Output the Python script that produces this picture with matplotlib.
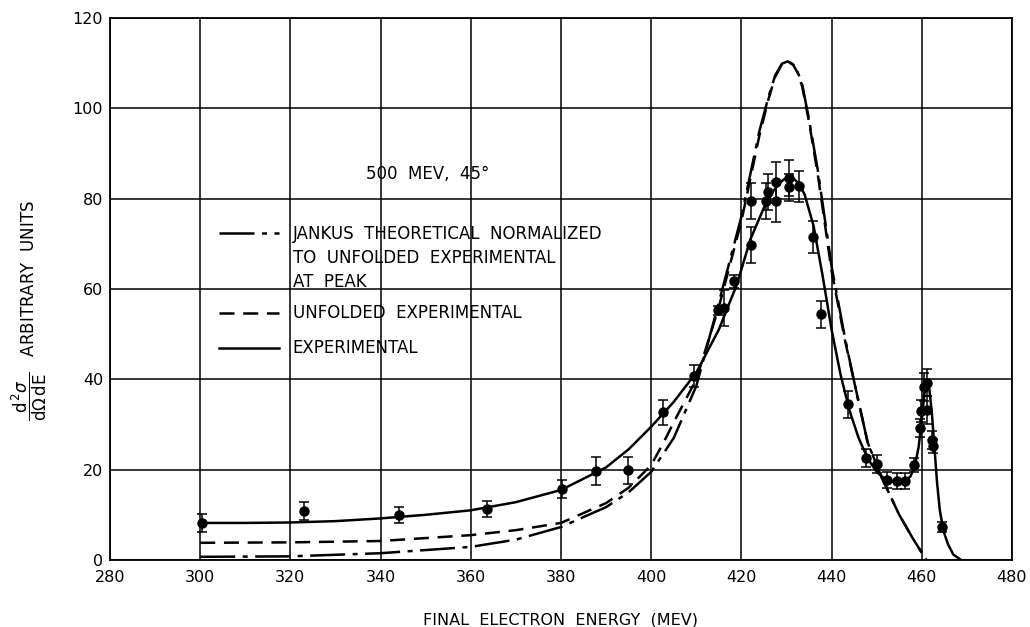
import numpy as np
import matplotlib
matplotlib.use('Agg')
from matplotlib import pyplot as plt
from matplotlib.lines import Line2D

# measured points (final electron energy in MeV, cross section arb. units)
pt_e = [300.5, 323, 344, 363.6, 380.2, 387.8, 394.9, 402.6, 409.5, 414.8,
        416.1, 418.4, 422.1, 422.1, 425.5, 425.9, 427.7, 427.7, 430.6, 430.6,
        432.8, 435.9, 437.7, 443.6, 447.6, 450.1, 452.3, 454.5, 456.3, 458.3,
        459.6, 459.8, 460.5, 461.2, 461.2, 462.3, 462.5, 464.5]
pt_y = [8.2, 10.8, 10.0, 11.3, 15.7, 19.7, 19.9, 32.7, 40.7, 55.3,
        55.8, 61.7, 69.7, 79.4, 79.4, 81.4, 79.4, 83.6, 84.5, 82.5,
        82.7, 71.5, 54.4, 34.5, 22.6, 21.2, 17.7, 17.5, 17.5, 21.0,
        29.2, 33.0, 38.3, 39.2, 33.2, 26.5, 25.2, 7.3]
pt_err = [2.0, 2.0, 1.8, 1.8, 2.0, 3.0, 3.0, 2.8, 2.5, 1.0,
          4.0, 1.5, 4.0, 4.0, 4.0, 4.0, 4.5, 4.5, 4.0, 3.0,
          3.5, 3.5, 3.0, 3.0, 2.0, 2.0, 1.8, 1.8, 1.8, 1.5,
          2.0, 2.5, 3.0, 3.0, 3.0, 2.0, 1.5, 1.2]

# experimental curve
exp_e = [300, 310, 320, 330, 340, 350, 360, 370, 380, 390, 395, 400, 405, 410,
         415, 419, 422, 425, 427, 428.5, 429.5, 430.5, 431.5, 432.5, 434, 436,
         438, 440, 442, 444, 446, 448, 450, 452, 454, 456, 457.5, 458.5, 459.3,
         460, 460.6, 461.1, 461.6, 462.2, 462.8, 463.4, 464, 464.8, 465.8, 467,
         468.7]
exp_y = [8.2, 8.2, 8.3, 8.6, 9.2, 10, 11, 12.8, 15.5, 20.5, 24.5, 29.5, 35, 41.5,
         51, 61, 71, 78, 81.6, 83.5, 84.3, 84.6, 84.5, 83.6, 81, 74,
         63, 51, 41, 33, 27, 22.5, 19.5, 17.8, 17.2, 17.3, 18.5, 21, 25,
         31, 37, 39.2, 38.5, 33, 25, 17, 11, 6.5, 3.5, 1.2,
         0]

# unfolded experimental curve
unf_e = [300, 320, 340, 360, 370, 380, 390, 395, 400, 403, 405, 410, 415, 420,
         424, 426, 427.5, 429, 430.3, 431.5, 432.5, 433.5, 435, 437, 440, 443,
         445, 448, 451, 455, 458, 461]
unf_y = [3.8, 3.9, 4.2, 5.5, 6.6, 8.2, 12.6, 16, 21, 26.5, 30.5, 40, 56, 75,
         94, 102, 107, 109.8, 110.4, 109.6, 107.8, 104.8, 97, 85, 64, 48.5,
         39.5, 26, 18.5, 10, 4.8, 0]

# Jankus theoretical, normalized at peak
jan_e = [300, 320, 340, 360, 370, 380, 390, 395, 400, 405, 410, 415, 420, 424,
         426, 427.5, 429, 430.3, 431.5, 432.5, 433.5, 435, 437, 440, 443, 445,
         448, 451, 455, 458, 461]
jan_y = [0.7, 0.8, 1.5, 2.9, 4.5, 7.3, 11.7, 15, 19.5, 27, 38.5, 57, 76, 95,
         102.5, 107.3, 109.9, 110.4, 109.7, 108, 105.2, 97.5, 86, 65, 49, 39.5,
         26, 18.5, 10, 4.8, 0]

x_ticks = np.arange(280, 481, 20)
y_ticks = np.arange(0, 121, 20)

plt.rcParams['font.family'] = 'DejaVu Sans'

fig = plt.figure(figsize=(10.3, 6.27), dpi=100)
ax = fig.add_axes([0.1068, 0.1069, 0.8757, 0.8644])

lw = 1.8
jan_dash = (14, 3, 2, 3)
unf_dash = (6, 3.5)
ax.plot(jan_e, jan_y, color='black', lw=lw, dashes=jan_dash)
ax.plot(unf_e, unf_y, color='black', lw=lw, dashes=unf_dash)
ax.plot(exp_e, exp_y, color='black', lw=lw)
ax.errorbar(pt_e, pt_y, yerr=pt_err, fmt='o', color='black', ms=6.5,
            elinewidth=1.1, capsize=3.5, capthick=1.1)

ax.set_xlim(280, 480)
ax.set_ylim(0, 120)
ax.set_xticks(x_ticks)
ax.set_yticks(y_ticks)
ax.tick_params(length=0, labelsize=11.5)
ax.tick_params(axis='y', pad=5)
ax.tick_params(axis='x', pad=7)
ax.grid(True, color='black', lw=1.1)
for sp in ax.spines.values():
    sp.set_linewidth(1.3)

ax.set_xlabel('FINAL  ELECTRON  ENERGY  (MEV)', fontsize=11.5, labelpad=20)
ax.set_ylabel(r'$\dfrac{\mathsf{d}^{\,2}\sigma}{\mathsf{d}\Omega\,\mathsf{dE}}$'
              '   ARBITRARY  UNITS', fontsize=12)
ax.yaxis.set_label_coords(-0.068, 0.46)

ax.text(350.5, 85.5, '500  MEV,  45°', fontsize=12, ha='center', va='center')

# legend block for the theory curve (three text lines)
leg_kw = dict(loc='upper left', frameon=False, fontsize=12, handlelength=3.6,
              handletextpad=0.8, borderpad=0)
h1 = [Line2D([], [], color='black', lw=lw, dashes=jan_dash),
      Line2D([], [], color='none'),
      Line2D([], [], color='none')]
l1 = ['JANKUS  THEORETICAL  NORMALIZED',
      'TO  UNFOLDED  EXPERIMENTAL',
      'AT  PEAK']
leg1 = ax.legend(h1, l1, bbox_to_anchor=(0.112, 0.633), labelspacing=0.35,
                 **leg_kw)
ax.add_artist(leg1)

h2 = [Line2D([], [], color='black', lw=lw, dashes=unf_dash),
      Line2D([], [], color='black', lw=lw)]
l2 = ['UNFOLDED  EXPERIMENTAL', 'EXPERIMENTAL']
ax.legend(h2, l2, bbox_to_anchor=(0.112, 0.487), labelspacing=1.02, **leg_kw)

fig.savefig('out.png', dpi=100)
